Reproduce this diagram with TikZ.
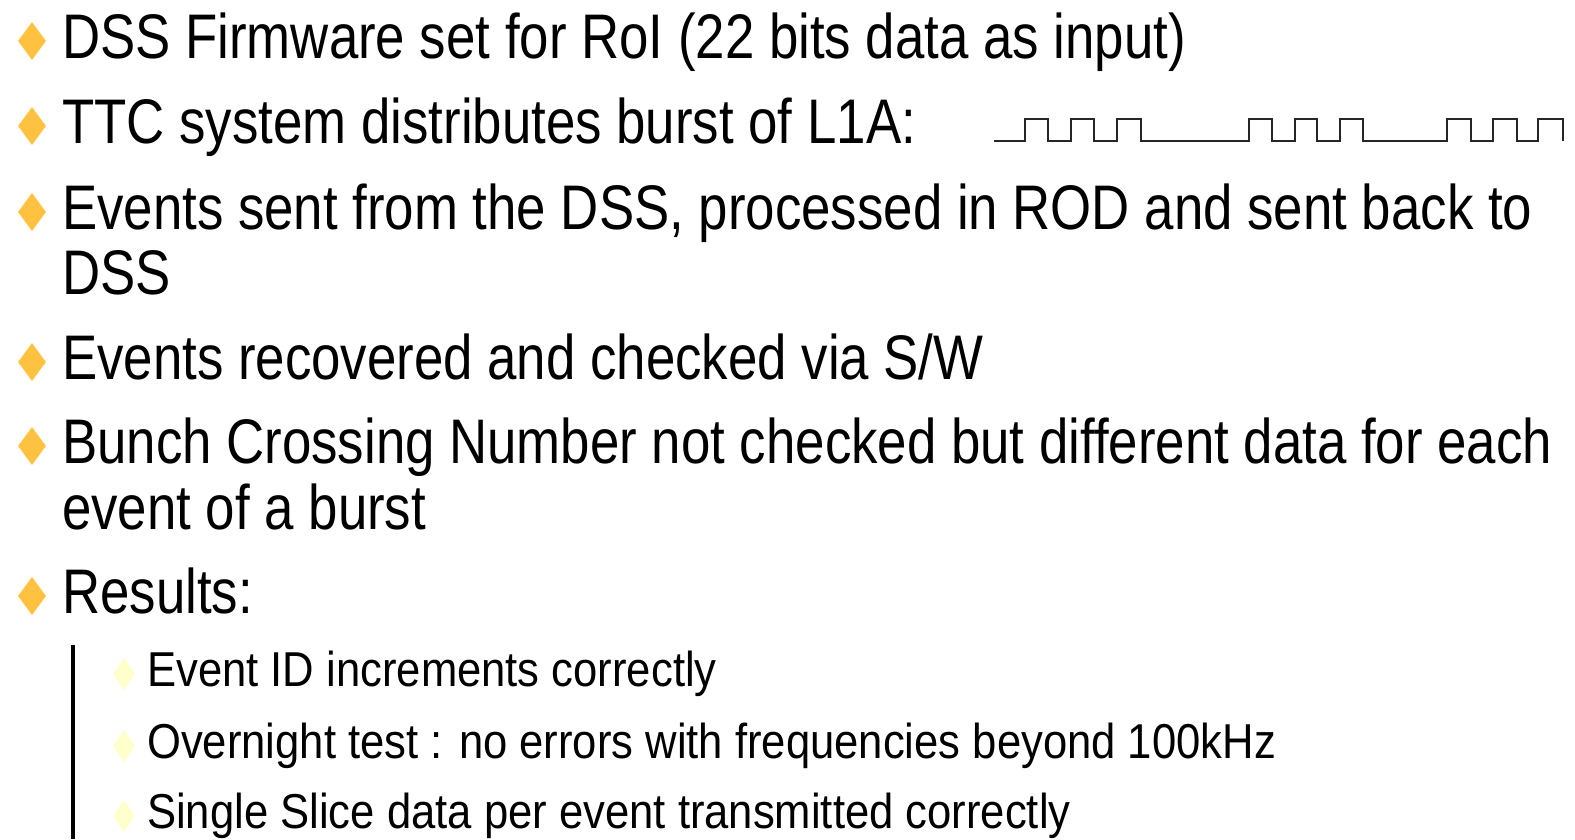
\documentclass[tikz,border=0pt]{standalone}
\usepackage{fontspec}
\setmainfont[FakeStretch=0.838]{Liberation Sans}
\newfontfamily\subfont[FakeStretch=0.89]{Liberation Sans}
\usetikzlibrary{shapes.geometric}
\tikzset{
  bigtext/.style={anchor=base west, inner sep=0pt, font=\fontsize{63}{63}\selectfont},
  smalltext/.style={anchor=base west, inner sep=0pt, font=\subfont\fontsize{49}{49}\selectfont},
  bigbullet/.style={shape=diamond, fill=bulletorange, draw=none, inner sep=0pt,
    minimum width=28pt, minimum height=38pt},
  smallbullet/.style={shape=diamond, fill=bulletyellow, draw=none, inner sep=0pt,
    minimum width=22pt, minimum height=32pt},
  pulse/.style={line width=2pt, line join=miter, black!85}
}
\definecolor{bulletorange}{RGB}{255,194,64}
\definecolor{bulletyellow}{RGB}{255,255,204}
\begin{document}
\begin{tikzpicture}[x=1pt,y=-1pt]
\useasboundingbox (0,0) rectangle (1575,839);

% top-level items
\node[bigbullet] (b1) at (32,41) {};
\node[bigtext] (t1) at (62,58) {DSS Firmware set for RoI (22 bits data as input)};
\node[bigbullet] (b2) at (32,126) {};
\node[bigtext] (t2) at (62,143) {TTC system distributes burst of L1A:};
\node[bigbullet] (b3) at (32,212) {};
\node[bigtext] (t3) at (62,229) {Events sent from the DSS, processed in ROD and sent back to};
\node[bigtext] (t3b) at (62,294) {DSS};
\node[bigbullet] (b4) at (32,362) {};
\node[bigtext] (t4) at (62,379) {Events recovered and checked via S/W};
\node[bigbullet] (b5) at (32,446) {};
\node[bigtext] (t5) at (62,463) {Bunch Crossing Number not checked but different data for each};
\node[bigtext] (t5b) at (62,529) {event of a burst};
\node[bigbullet] (b6) at (32,596) {};
\node[bigtext] (t6) at (62,613) {Results:};

% sub-items with side bar
\draw[line width=4pt] (73,645) -- (73,839);
\node[smallbullet] (s1) at (124,674) {};
\node[smalltext] (u1) at (147,686) {Event ID increments correctly};
\node[smallbullet] (s2) at (124,746) {};
\node[smalltext] (u2) at (147,758) {Overnight test : no errors with frequencies beyond 100kHz};
\node[smallbullet] (s3) at (124,816) {};
\node[smalltext] (u3) at (147,828) {Single Slice data per event transmitted correctly};

% L1A burst waveform
\draw[pulse] (994,141)
  -- (1024.5,141) -- (1024.5,119) -- (1048.3,119) -- (1048.3,141)
  -- (1070.7,141) -- (1070.7,119) -- (1094,119) -- (1094,141)
  -- (1116.7,141) -- (1116.7,119) -- (1140.7,119) -- (1140.7,141)
  -- (1249,141) -- (1249,119) -- (1271.5,119) -- (1271.5,141)
  -- (1294.6,141) -- (1294.6,119) -- (1317.4,119) -- (1317.4,141)
  -- (1340,141) -- (1340,119) -- (1363,119) -- (1363,141)
  -- (1446.7,141) -- (1446.7,119) -- (1471,119) -- (1471,141)
  -- (1492.7,141) -- (1492.7,119) -- (1516.7,119) -- (1516.7,141)
  -- (1538.3,141) -- (1538.3,119) -- (1562.7,119) -- (1562.7,141);
\end{tikzpicture}
\end{document}
